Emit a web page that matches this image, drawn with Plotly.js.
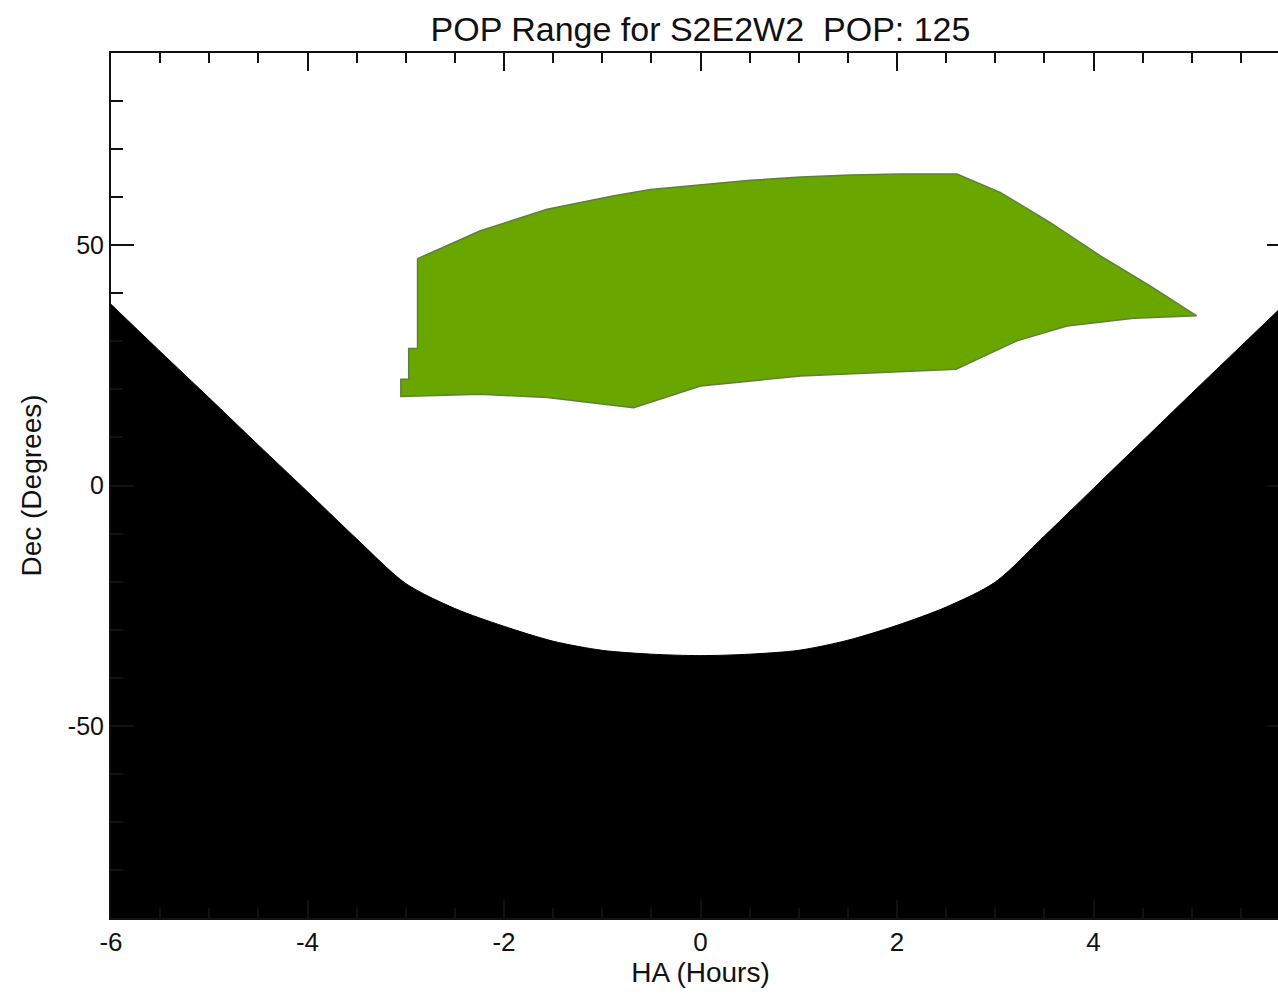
<!DOCTYPE html>
<html>
<head>
<meta charset="utf-8">
<script src="https://cdn.plot.ly/plotly-3.0.1.min.js"></script>
<style>
html,body{margin:0;padding:0;overflow:hidden;background:#fff;}
#chart{width:1300px;height:996px;}
</style>
</head>
<body>
<div id="chart"></div>
<script>
// Horizon limit (lowest reachable Dec) vs hour angle
const horizonHA  = [-6, -5.5, -5, -4.5, -4, -3.5, -3, -2.5, -2, -1.5, -1, -0.5, 0, 0.5, 1, 1.5, 2, 2.5, 3, 3.5, 4, 4.5, 5, 5.5, 6];
const horizonDec = [37.7, 27.9, 18.2, 8.4, -1.3, -11.1, -20.4, -25.6, -29.3, -32.4, -34.3, -35.1, -35.4, -35.1, -34.3, -32.2, -29.1, -25.3, -20.1, -10.5, -0.6, 9.3, 19.2, 29.0, 38.8];

// POP range region outline
const popHA  = [-2.88, -2.54, -2.24, -1.56, -0.88, -0.51, 0, 0.51, 1.02, 1.53, 2.04, 2.61, 3.05, 3.56, 4.07, 4.58, 5.05, 4.41, 3.73, 3.22, 2.60, 2.04, 1.02, 0, -0.68, -1.56, -2.24, -3.05, -3.05, -2.97, -2.97, -2.88, -2.88];
const popDec = [47.2, 50.2, 53.0, 57.5, 60.3, 61.6, 62.5, 63.5, 64.2, 64.6, 64.8, 64.8, 61.0, 54.7, 47.8, 41.5, 35.3, 34.8, 33.2, 30.1, 24.2, 23.7, 22.8, 20.7, 16.2, 18.3, 19.0, 18.5, 22.1, 22.1, 28.5, 28.5, 47.2];

const xTickVals = [-6, -4, -2, 0, 2, 4];
const xTickText = ['-6', '-4', '-2', '0', '2', '4'];
const yTickVals = [-50, 0, 50];
const yTickText = ['-50', '0', '50'];

const titleText = 'POP Range for S2E2W2  POP: 125';
const xTitle = 'HA (Hours)';
const yTitle = 'Dec (Degrees)';

const font = 'Liberation Sans, Arial, Helvetica, sans-serif';

const traces = [
  {x: [horizonHA[0], horizonHA[horizonHA.length-1]], y: [-90, -90], mode: 'lines', line: {width: 0, color: 'rgba(0,0,0,0)'}, hoverinfo: 'skip', showlegend: false},
  {x: horizonHA, y: horizonDec, mode: 'lines', fill: 'tonexty', fillcolor: '#000000', line: {color: '#000000', width: 1, shape: 'spline', smoothing: 0.8}, showlegend: false},
  {x: popHA, y: popDec, mode: 'lines', fill: 'toself', fillcolor: '#6aa600', line: {color: '#5f7f3a', width: 1.5}, showlegend: false}
];

const layout = {
  width: 1300, height: 996,
  margin: {l: 111, r: 10, t: 53, b: 78},
  paper_bgcolor: '#ffffff', plot_bgcolor: '#ffffff',
  showlegend: false,
  font: {family: font, color: '#111111', size: 26},
  title: {text: titleText, font: {family: font, size: 34, color: '#111111'}, xref: 'paper', x: 0.5, xanchor: 'center', yref: 'container', y: 0.971, yanchor: 'middle'},
  xaxis: {
    range: [-6, 6], tickmode: 'array', tickvals: xTickVals, ticktext: xTickText,
    ticks: 'inside', ticklen: 18, tickwidth: 2, tickcolor: '#111',
    showline: true, linewidth: 2, linecolor: '#111', mirror: 'allticks',
    showgrid: false, zeroline: false,
    tickfont: {family: font, size: 26, color: '#111'},
    minor: {dtick: 0.5, tick0: 0, ticks: 'inside', ticklen: 10, tickwidth: 2, tickcolor: '#111', showgrid: false},
    title: {text: xTitle, font: {family: font, size: 28, color: '#111'}, standoff: 6}
  },
  yaxis: {
    range: [-90, 90], tickmode: 'array', tickvals: yTickVals, ticktext: yTickText,
    ticks: 'inside', ticklen: 23, tickwidth: 2, tickcolor: '#111',
    showline: true, linewidth: 2, linecolor: '#111', mirror: 'allticks',
    showgrid: false, zeroline: false,
    tickfont: {family: font, size: 25, color: '#111'},
    minor: {dtick: 10, tick0: 0, ticks: 'inside', ticklen: 12, tickwidth: 2, tickcolor: '#111', showgrid: false},
    title: {text: yTitle, font: {family: font, size: 28, color: '#111'}, standoff: 18}
  }
};

Plotly.newPlot('chart', traces, layout, {staticPlot: true, displayModeBar: false});
</script>
</body>
</html>
